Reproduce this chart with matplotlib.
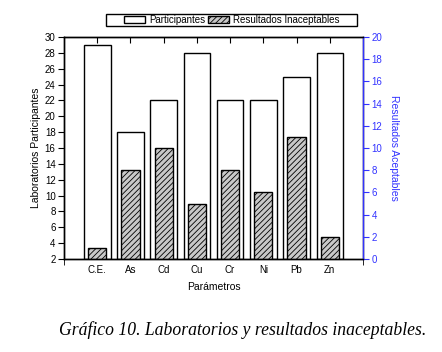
import numpy as np
from matplotlib import pyplot as plt
from matplotlib.patches import Patch, Rectangle

plt.rcParams['font.family'] = ['Liberation Sans', 'DejaVu Sans']
plt.rcParams['hatch.linewidth'] = 0.6

parametros = ["C.E.", "As", "Cd", "Cu", "Cr", "Ni", "Pb", "Zn"]
participantes = [29, 18, 22, 28, 22, 22, 25, 28]
inaceptables = [1, 8, 10, 5, 8, 6, 11, 2]

blue = '#3333ff'
x = np.arange(len(parametros))

fig = plt.figure(figsize=(4.42, 3.52), dpi=100)
ax = fig.add_axes([0.1448, 0.2642, 0.6765, 0.6307])
ax2 = ax.twinx()

ax.bar(x, np.array(participantes) - 2, bottom=2, width=0.8,
       facecolor='white', edgecolor='black', linewidth=1.0)
ax2.bar(x, inaceptables, width=0.55, facecolor='#c8c8c8',
        edgecolor='black', linewidth=1.0, hatch='//////')

ax.set_xlim(-1, 8)
ax.set_ylim(2, 30)
ax2.set_ylim(0, 20)
ax.set_yticks(np.arange(2, 31, 2))
ax2.set_yticks(np.arange(0, 21, 2))

ax.set_xticks(x)
ax.set_xticklabels(parametros)
ax.set_xticks([-1, 8], minor=True)
ax.tick_params(axis='x', which='major', bottom=False, top=True,
               direction='in', length=4, labelsize=7, pad=4)
ax.tick_params(axis='x', which='minor', bottom=True, top=False,
               direction='out', length=4)
ax.tick_params(axis='y', direction='out', length=4, labelsize=7, pad=2)
ax2.tick_params(axis='y', direction='out', length=4, labelsize=7, pad=2,
                colors=blue)
for a in (ax, ax2):
    for s in a.spines.values():
        s.set_linewidth(1.0)
ax2.spines['right'].set_color(blue)

ax.set_xlabel("Parámetros", fontsize=7.5, labelpad=5)
ax.set_ylabel("Laboratorios Participantes", fontsize=7.5, labelpad=3)
ax2.set_ylabel("Resultados Aceptables", fontsize=7.5, color=blue,
               rotation=270, labelpad=12)

# legend box drawn separately, wider than its contents
fig.patches.append(Rectangle((0.2398, 0.927), 0.568, 0.0335,
                             transform=fig.transFigure, facecolor='white',
                             edgecolor='black', linewidth=1.0))
handles = [Patch(facecolor='white', edgecolor='black', linewidth=1.0),
           Patch(facecolor='#c8c8c8', edgecolor='black', linewidth=1.0,
                 hatch='//////')]
leg = fig.legend(handles, ["Participantes", "Resultados Inaceptables"],
                 loc='center', bbox_to_anchor=(0.525, 0.9435), ncol=2,
                 fontsize=7, frameon=False,
                 handlelength=2.16, handleheight=0.72, handletextpad=0.4,
                 columnspacing=0.3, borderpad=0.1, borderaxespad=0)

fig.text(0.55, 0.062, "Gráfico 10. Laboratorios y resultados inaceptables.",
         ha='center', va='center', fontsize=12.7, style='italic',
         family=['Liberation Serif', 'DejaVu Serif'])

fig.savefig('out.png', dpi=100)
